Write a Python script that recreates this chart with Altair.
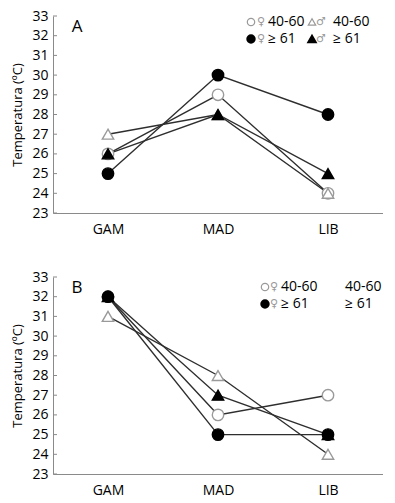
import altair as alt
import pandas as pd

categories = ["GAM", "MAD", "LIB"]
series = ["f40", "m40", "f61", "m61"]

A_f40 = [26, 29, 24]
A_m40 = [27, 28, 24]
A_f61 = [25, 30, 28]
A_m61 = [26, 28, 25]

B_f40 = [32, 26, 27]
B_m40 = [31, 28, 24]
B_f61 = [32, 25, 25]
B_m61 = [32, 27, 25]

y_ticks = list(range(23, 34))

FONT = "Open Sans"
GREY = "#9a9a9a"
LINE = "#2e2e2e"


def make_df(vals):
    rows = []
    for k, (s, v) in enumerate(zip(series, vals)):
        for i, (c, t) in enumerate(zip(categories, v)):
            rows.append({"series": s, "site": c, "temp": t, "z": [0, 1, 3, 2][k]})
    return pd.DataFrame(rows)


one = pd.DataFrame({"a": [0]})


def txt(s, x, y, size=14, color="black", font=FONT, align="left"):
    return alt.Chart(one).mark_text(
        text=s, fontSize=size, font=font, color=color, align=align, baseline="middle"
    ).encode(x=alt.value(x), y=alt.value(y))


def sym(shape, filled, x, y, size=55):
    if filled:
        m = alt.Chart(one).mark_point(shape=shape, filled=True, fill="black", stroke="black", size=size, opacity=1)
    else:
        m = alt.Chart(one).mark_point(shape=shape, filled=False, fill="white", stroke=GREY, strokeWidth=1.2, size=size, opacity=1)
    return m.encode(x=alt.value(x), y=alt.value(y))


yscale = alt.Scale(domain=[23, 33], nice=False, zero=False)
yaxis = alt.Axis(title="Temperatura (ºC)", values=y_ticks, ticks=False, grid=False,
                 labelOverlap=False, labelFlush=False, labelBound=False,
                 labelPadding=5, labelFontSize=14, labelFont=FONT,
                 titleFont=FONT, titleFontSize=13, titleFontWeight="normal",
                 titlePadding=7, domainColor="#8a8a8a")


def panel(vals, letter, legend_layers):
    df = make_df(vals)
    x = alt.X("site:N", sort=categories, scale=alt.Scale(type="point", padding=0.5),
              axis=alt.Axis(title=None, labelAngle=0, ticks=False, labelPadding=9,
                            labelFontSize=14, labelFont=FONT, domainColor="#8a8a8a"))
    y = alt.Y("temp:Q", scale=yscale, axis=yaxis)
    base = alt.Chart(df)
    lines = base.mark_line(color=LINE, strokeWidth=1.4).encode(
        x=x, y=y, detail="series:N", order=alt.Order("site_idx:Q")
    ).transform_calculate(site_idx="indexof(['GAM','MAD','LIB'], datum.site)")
    pts = base.mark_point(size=130, opacity=1, strokeWidth=1.4).encode(
        x=x, y=y,
        shape=alt.Shape("series:N", scale=alt.Scale(domain=series, range=["circle", "triangle-up", "circle", "triangle-up"]), legend=None),
        fill=alt.Fill("series:N", scale=alt.Scale(domain=series, range=["white", "white", "black", "black"]), legend=None),
        stroke=alt.Stroke("series:N", scale=alt.Scale(domain=series, range=[GREY, GREY, "black", "black"]), legend=None),
        order=alt.Order("z:Q"),
    )
    tdf = pd.DataFrame({"temp": y_ticks})
    ticks = alt.Chart(tdf).mark_rule(color="#8a8a8a", strokeWidth=1).encode(
        y=alt.Y("temp:Q", scale=yscale, axis=yaxis),
        x=alt.value(0), x2=alt.value(4)
    )
    lab = txt(letter, 24, 11, size=17, align="center")
    return alt.layer(lines, pts, ticks, lab, *legend_layers).properties(width=330, height=197)


legA = [
    sym("circle", False, 198, 6), txt("♀", 208, 6, size=11, color=GREY, font="DejaVu Sans", align="center"),
    txt("40-60", 215, 6),
    sym("triangle-up", False, 259, 6), txt("♂", 268, 6, size=11, color=GREY, font="DejaVu Sans", align="center"),
    txt("40-60", 280, 6),
    sym("circle", True, 198, 23), txt("♀", 208, 23, size=11, color=GREY, font="DejaVu Sans", align="center"),
    txt("≥ 61", 215, 23),
    sym("triangle-up", True, 259, 23), txt("♂", 268, 23, size=11, color=GREY, font="DejaVu Sans", align="center"),
    txt("≥ 61", 280, 23),
]

legB = [
    sym("circle", False, 212, 10), txt("♀", 221, 10, size=11, color=GREY, font="DejaVu Sans", align="center"),
    txt("40-60", 228, 10),
    txt("40-60", 292, 10),
    sym("circle", True, 212, 27), txt("♀", 221, 27, size=11, color=GREY, font="DejaVu Sans", align="center"),
    txt("≥ 61", 228, 27),
    txt("≥ 61", 292, 27),
]

pA = panel([A_f40, A_m40, A_f61, A_m61], "A", legA)
pB = panel([B_f40, B_m40, B_f61, B_m61], "B", legB)

chart = alt.vconcat(pA, pB, spacing=34).properties(
    padding={"left": 3, "top": 1, "right": 0, "bottom": 0}
).configure_view(stroke=None).configure_axis(
    labelColor="black", titleColor="black"
)

chart.save("out.html", embed_options={"renderer": "svg", "actions": False})
